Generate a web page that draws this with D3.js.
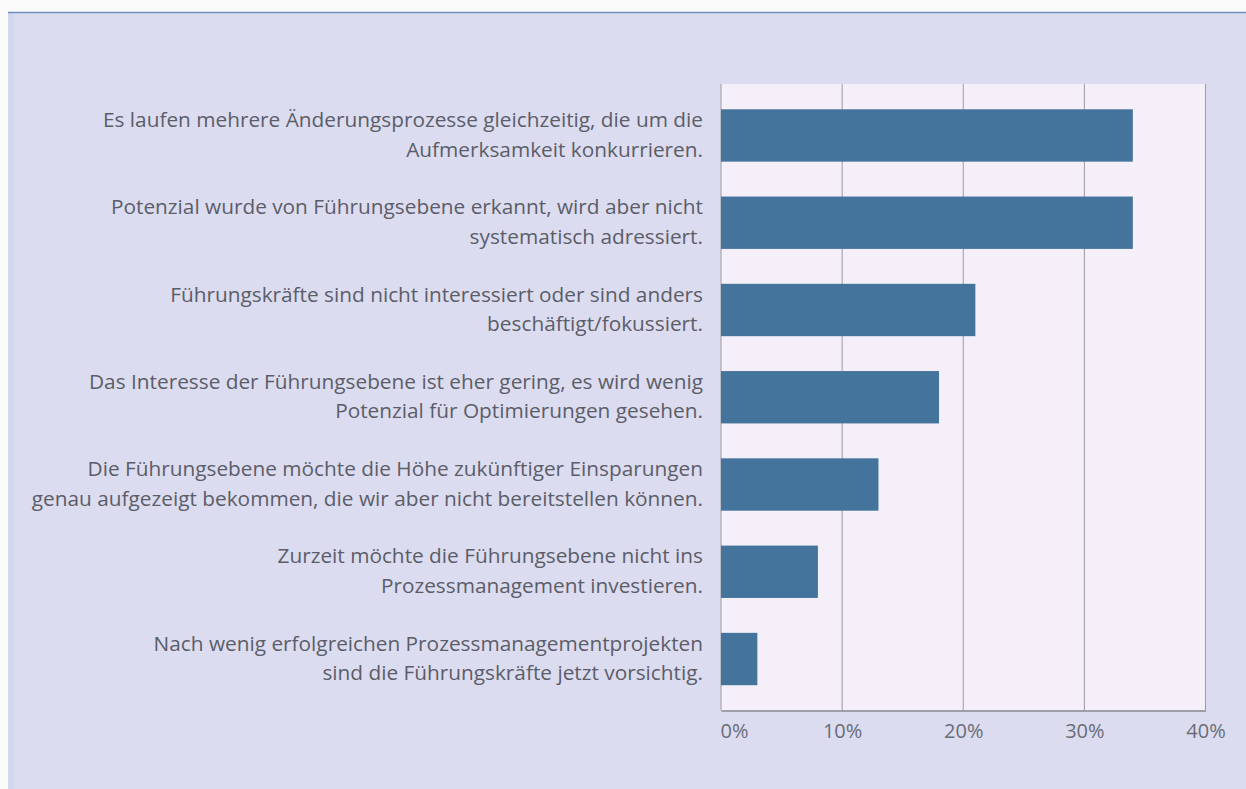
<!DOCTYPE html>
<html>
<head>
<meta charset="utf-8">
<script src="https://cdn.jsdelivr.net/npm/d3@7"></script>
<style>
  html, body { margin: 0; padding: 0; background: #fafafa; }
  svg { display: block; }
</style>
</head>
<body>
<svg id="chart" width="1246" height="789"></svg>
<script>
// Reasons given for the lack of management attention (share of respondents)
const categories = [
  ["Es laufen mehrere Änderungsprozesse gleichzeitig, die um die", "Aufmerksamkeit konkurrieren."],
  ["Potenzial wurde von Führungsebene erkannt, wird aber nicht", "systematisch adressiert."],
  ["Führungskräfte sind nicht interessiert oder sind anders", "beschäftigt/fokussiert."],
  ["Das Interesse der Führungsebene ist eher gering, es wird wenig", "Potenzial für Optimierungen gesehen."],
  ["Die Führungsebene möchte die Höhe zukünftiger Einsparungen", "genau aufgezeigt bekommen, die wir aber nicht bereitstellen können."],
  ["Zurzeit möchte die Führungsebene nicht ins", "Prozessmanagement investieren."],
  ["Nach wenig erfolgreichen Prozessmanagementprojekten", "sind die Führungskräfte jetzt vorsichtig."]
];
const values = [34, 34, 21, 18, 13, 8, 3];
const tickValues = [0, 10, 20, 30, 40];

const W = 1246, H = 789;
const plot = { left: 721, right: 1205.5, top: 84, bottom: 710.5 };
const font = "'Open Sans', sans-serif";
const textColor = "#5b5d69";

const svg = d3.select("#chart");

// Frame: white page, panel background, top rule and left strip
svg.append("rect").attr("x", 0).attr("y", 0).attr("width", W).attr("height", H).attr("fill", "#fafafa");
svg.append("rect").attr("x", 8).attr("y", 12).attr("width", W - 8).attr("height", H - 12).attr("fill", "#dbdcef");
svg.append("rect").attr("x", 8).attr("y", 12).attr("width", 6).attr("height", H - 12).attr("fill", "#d2d9ec");
svg.append("line").attr("x1", 8).attr("x2", W).attr("y1", 12.5).attr("y2", 12.5)
  .attr("stroke", "#7190c2").attr("stroke-width", 1.5);

const x = d3.scaleLinear().domain([0, 40]).range([plot.left, plot.right]);
const y = d3.scaleBand().domain(d3.range(categories.length))
  .range([plot.top, plot.bottom]).paddingInner(0.4).paddingOuter(0.29);

// Plot background
svg.append("rect")
  .attr("x", plot.left).attr("y", plot.top)
  .attr("width", plot.right - plot.left).attr("height", plot.bottom - plot.top)
  .attr("fill", "#f4eff9");

// Vertical gridlines
svg.append("g").selectAll("line").data(tickValues).join("line")
  .attr("x1", d => x(d)).attr("x2", d => x(d))
  .attr("y1", plot.top).attr("y2", plot.bottom)
  .attr("stroke", "#9a9aa2").attr("stroke-width", 1);

// Bars
svg.append("g").selectAll("rect").data(values).join("rect")
  .attr("x", x(0))
  .attr("y", (d, i) => y(i))
  .attr("width", d => x(d) - x(0))
  .attr("height", y.bandwidth())
  .attr("fill", "#44739c");

// Bottom axis
const axis = d3.axisBottom(x).tickValues(tickValues).tickFormat(d => d + "%").tickSize(0).tickPadding(13);
const gx = svg.append("g").attr("transform", `translate(0,${plot.bottom})`).call(axis);
gx.select(".domain").attr("stroke", "#8a8a94").attr("stroke-width", 1.5);
gx.selectAll(".tick text")
  .attr("font-family", font).attr("font-size", 20).attr("fill", "#6a6c78")
  .attr("dy", "0.71em")
  .attr("text-anchor", (d, i) => i === 0 ? "start" : "middle")
  .attr("x", (d, i) => i === 0 ? -1 : 0);

// Category labels, two lines each, right aligned to the plot
const labels = svg.append("g").selectAll("text").data(categories).join("text")
  .attr("font-family", font).attr("font-size", 20.8).attr("fill", textColor)
  .attr("text-anchor", "end")
  .attr("y", (d, i) => y(i) + y.bandwidth() / 2);
labels.selectAll("tspan").data(d => d).join("tspan")
  .attr("x", plot.left - 18)
  .attr("dy", (d, j) => j === 0 ? "-0.4em" : "1.42em")
  .text(d => d);
</script>
</body>
</html>
